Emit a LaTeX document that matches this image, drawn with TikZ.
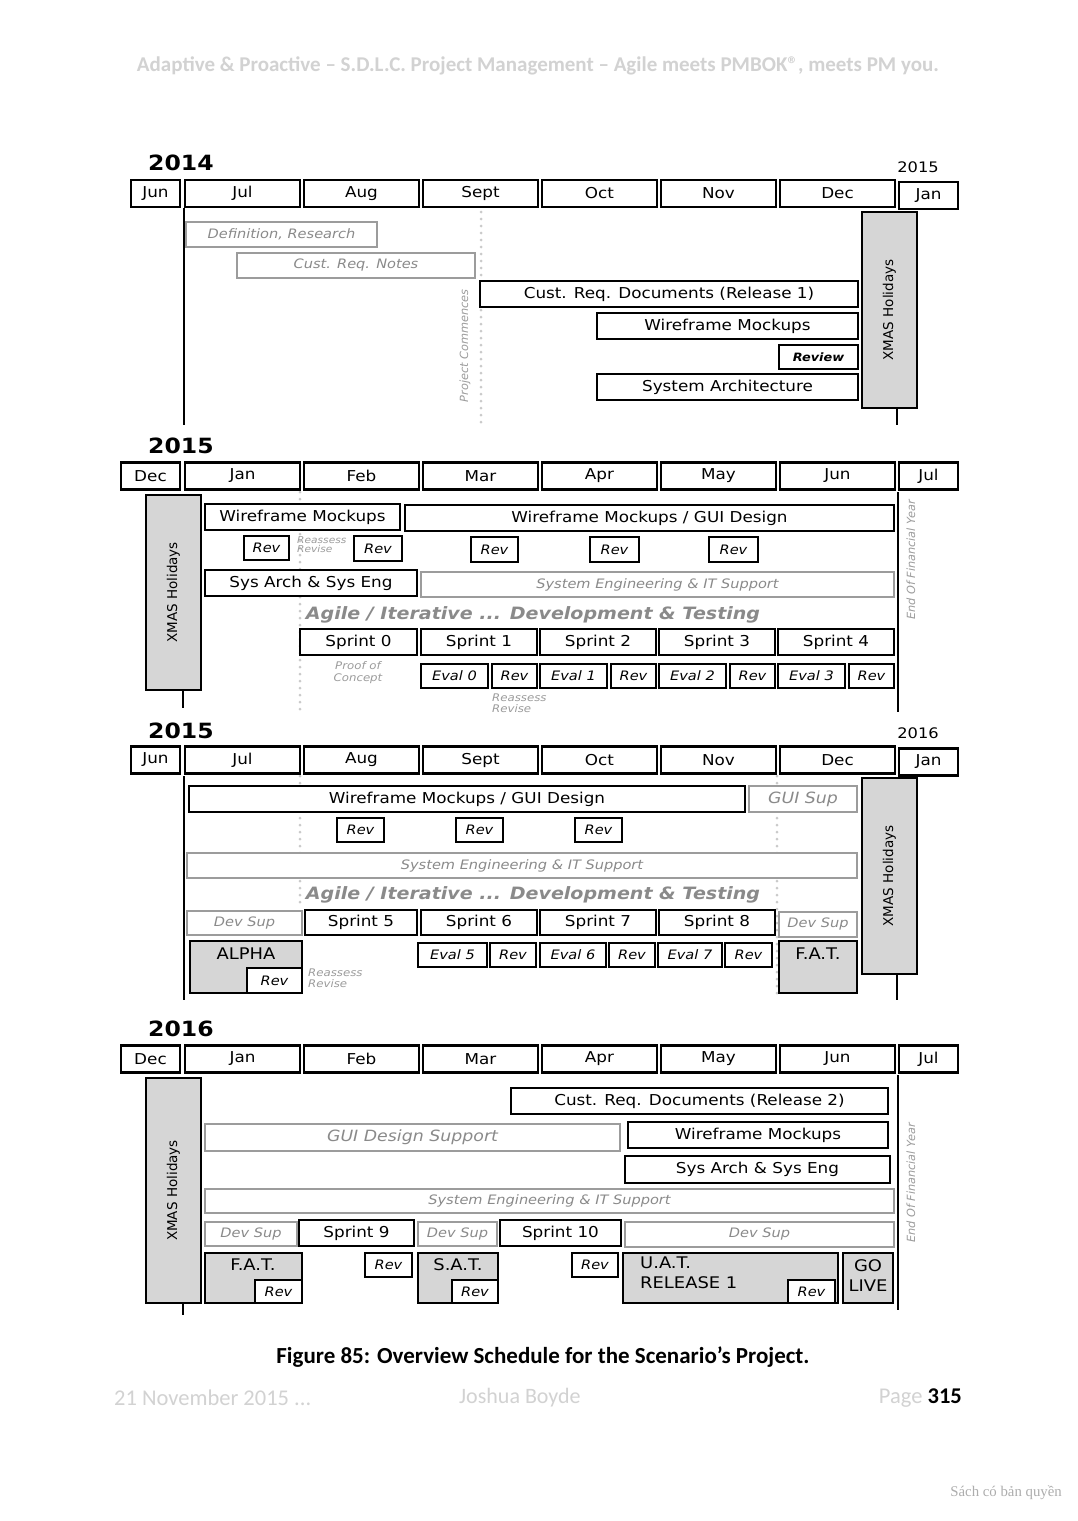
\documentclass[tikz,border=0pt]{standalone}
\usepackage{fontspec}
\setmainfont{DejaVu Sans}[FakeStretch=1.12]
\newfontfamily\plainfont{DejaVu Sans}
\newfontfamily\calfont{Carlito}
\newfontfamily\serfont{Liberation Serif}
\definecolor{inkgray}{HTML}{8A8A8A}
\definecolor{pagegray}{HTML}{D2D2D2}
\definecolor{holgray}{HTML}{D6D6D6}
\newcommand\sizept[1]{\fontsize{#1}{#1}\selectfont}
\begin{document}
\begin{tikzpicture}[x=1pt,y=-1pt,
  cellbox/.style args={#1/#2/#3/#4}{at={({((#1)+(#3))/2},{((#2)+(#4))/2})}, minimum width={(#3)-(#1)}, minimum height={(#4)-(#2)}},
  month/.style={draw, line width=2.2pt, fill=white, inner sep=0pt, minimum height=27pt, font=\sizept{15}},
  bar/.style={draw, line width=2.2pt, fill=white, inner sep=0pt, font=\sizept{15}},
  gbar/.style={draw=inkgray!85, line width=1.8pt, fill=white, inner sep=0pt, text=inkgray, font=\itshape\sizept{13}},
  rev/.style={draw, line width=2.2pt, fill=white, inner sep=0pt, font=\itshape\sizept{13}},
  hol/.style={draw, line width=2.2pt, fill=holgray, inner sep=0pt},
  milestone/.style={inner sep=0pt, font=\sizept{16}},
  holtext/.style={rotate=90, font=\plainfont\sizept{13.5}},
  note/.style={text=inkgray!85, font=\itshape\sizept{10.5}, align=left, inner sep=0pt},
  sidenote/.style={rotate=90, text=inkgray!85, inner sep=0pt, font=\plainfont\itshape\sizept{11.3}},
  tline/.style={line width=2pt},
  dots/.style={inkgray!45, line width=3pt, line cap=round, dash pattern=on 0pt off 7pt},
  agile/.style={text=inkgray, font=\bfseries\itshape\sizept{17}},
  bigyear/.style={font=\bfseries\sizept{21}, anchor=west, inner sep=0pt},
  smallyear/.style={font=\sizept{14.5}, inner sep=0pt}
]
\useasboundingbox[fill=white] (0,0) rectangle (1077,1521);
\node[text=pagegray, font=\calfont\bfseries\sizept{21}] (hdr) at (538,66) {Adaptive \& Proactive – S.D.L.C. Project Management – Agile meets PMBOK®, meets PM you.};

% 2014
\draw[dots] (481,212) -- (481,425);
\draw[tline] (184,208) -- (184,425);
\node[bigyear] (yra) at (148,163) {2014};
\node[smallyear] (yra2) at (918,167) {2015};
\node[month, minimum width=49pt] (ma0) at (155.5,193.5) {Jun};
\foreach \m [count=\k from 1] in {Jul,Aug,Sept,Oct,Nov,Dec}
  \node[month, minimum width=115pt] (ma\k) at ({123.5+119*\k},193.5) {\m};
\node[month, minimum width=59pt] (ma7) at (928.5,195.5) {Jan};
\node[gbar, cellbox=186/222/377/247] (defres) {Definition, Research};
\node[gbar, cellbox=237/253/475/278] (crnotes) {Cust. Req. Notes};
\node[sidenote] (projc) at (465,346) {Project Commences};
\node[bar, cellbox=480/281/858/307] (crdoc1) {Cust. Req. Documents (Release 1)};
\node[bar, cellbox=597/313/858/339] (wfa) {Wireframe Mockups};
\node[rev, font=\bfseries\itshape\sizept{11.5}, cellbox=779/345/858/369] (reviewa) {Review};
\node[bar, cellbox=597/374/858/400] (sysarch) {System Architecture};
\node[hol, cellbox=862/212/917/408] (xmasa) {};
\node[holtext] (xmasat) at (xmasa.center) {XMAS Holidays};
\draw[tline] (897,408) -- (897,425);

% 2015 first half
\draw[dots] (300,492) -- (300,712);
\draw[tline] (898,492) -- (898,712);
\node[bigyear] (yrb) at (148,446) {2015};
\node[month, minimum width=59pt] (mb0) at (150.5,476) {Dec};
\foreach \m [count=\k from 1] in {Jan,Feb,Mar,Apr,May,Jun}
  \node[month, minimum width=115pt] (mb\k) at ({123.5+119*\k},476) {\m};
\node[month, minimum width=59pt] (mb7) at (928.5,476) {Jul};
\node[sidenote] (fyb) at (911,560) {End Of Financial Year};
\node[hol, cellbox=146/495/201/690] (xmasb) {};
\node[holtext] (xmasbt) at (xmasb.center) {XMAS Holidays};
\draw[tline] (183,690) -- (183,708);
\node[bar, cellbox=205/504/400/530] (wfb) {Wireframe Mockups};
\node[bar, cellbox=405/505/894/531] (guib) {Wireframe Mockups / GUI Design};
\node[rev, cellbox=244/536/289/560] (rb1) {Rev};
\node[note, anchor=north west, font=\itshape\sizept{9.5}] (reb1) at (297,536) {Reassess\\Revise};
\node[rev, cellbox=354/536/402/561] (rb2) {Rev};
\node[rev, cellbox=471/537/518/562] (rb3) {Rev};
\node[rev, cellbox=590/537/639/562] (rb4) {Rev};
\node[rev, cellbox=709/537/758/562] (rb5) {Rev};
\node[bar, cellbox=205/570/417/596] (sab) {Sys Arch \& Sys Eng};
\node[gbar, cellbox=421/572/894/597] (seb) {System Engineering \& IT Support};
\node[agile] (agb) at (533,615) {Agile / Iterative ... Development \& Testing};
\node[bar, cellbox=300/629/417/655] (sp0) {Sprint 0};
\foreach \k in {1,...,4}
  \node[bar, cellbox={302+119*\k}/629/{418+119*\k}/655] (sp\k) {Sprint \k};
\foreach \k in {0,...,3} {
  \node[rev, cellbox={421+119*\k}/664/{488+119*\k}/688] (ev\k) {Eval \k};
  \node[rev, cellbox={492+119*\k}/664/{537+119*\k}/688] (er\k) {Rev};
}
\node[note, align=center, font=\itshape\fontsize{10.5}{12}\selectfont] (poc) at (358,673) {Proof of\\Concept};
\node[note, anchor=north west] (reb2) at (492,694) {Reassess\\Revise};

% 2015 second half
\draw[dots] (300,776) -- (300,905);
\draw[dots] (777,776) -- (777,1000);
\draw[tline] (184,776) -- (184,1000);
\node[bigyear] (yrc) at (148,731) {2015};
\node[smallyear] (yrc2) at (918,733) {2016};
\node[month, minimum width=49pt] (mc0) at (155.5,760) {Jun};
\foreach \m [count=\k from 1] in {Jul,Aug,Sept,Oct,Nov,Dec}
  \node[month, minimum width=115pt] (mc\k) at ({123.5+119*\k},760) {\m};
\node[month, minimum width=59pt] (mc7) at (928.5,762) {Jan};
\node[bar, cellbox=189/786/745/812] (guic) {Wireframe Mockups / GUI Design};
\node[gbar, font=\itshape\sizept{15.5}, cellbox=749/786/857/812] (gsc) {GUI Sup};
\node[rev, cellbox=337/818/384/842] (rc1) {Rev};
\node[rev, cellbox=456/818/503/842] (rc2) {Rev};
\node[rev, cellbox=575/818/622/842] (rc3) {Rev};
\node[gbar, cellbox=187/853/857/878] (sec) {System Engineering \& IT Support};
\node[agile] (agc) at (533,895) {Agile / Iterative ... Development \& Testing};
\node[gbar, cellbox=187/911/302/935] (dsc1) {Dev Sup};
\node[bar, cellbox=305/910/417/935] (sp5) {Sprint 5};
\foreach \k in {1,...,3}
  \node[bar, cellbox={302+119*\k}/910/{418+119*\k}/935] (sp\the\numexpr\k+5\relax) {Sprint \the\numexpr\k+5\relax};
\node[gbar, cellbox=779/912/857/937] (dsc2) {Dev Sup};
\node[hol, cellbox=862/778/917/974] (xmasc) {};
\node[holtext] (xmasct) at (xmasc.center) {XMAS Holidays};
\draw[tline] (897,974) -- (897,1000);
\node[hol, cellbox=190/941/302/993] (alpha) {};
\node[milestone] (alphat) at (246,954) {ALPHA};
\node[rev, cellbox=247/968/302/993] (rc4) {Rev};
\node[note, anchor=north west] (rec) at (308,969) {Reassess\\Revise};
\node[rev, cellbox=418/943/487/967] (ev5) {Eval 5};
\node[rev, cellbox=490/943/536/967] (er5) {Rev};
\node[rev, cellbox=540/943/606/967] (ev6) {Eval 6};
\node[rev, cellbox=609/943/655/967] (er6) {Rev};
\node[rev, cellbox=658/943/722/967] (ev7) {Eval 7};
\node[rev, cellbox=725/943/772/967] (er7) {Rev};
\node[hol, cellbox=779/941/857/993] (fatc) {};
\node[milestone] (fatct) at (818,954) {F.A.T.};

% 2016
\draw[tline] (898,1075) -- (898,1310);
\node[bigyear] (yrd) at (148,1029) {2016};
\node[month, minimum width=59pt] (md0) at (150.5,1059) {Dec};
\foreach \m [count=\k from 1] in {Jan,Feb,Mar,Apr,May,Jun}
  \node[month, minimum width=115pt] (md\k) at ({123.5+119*\k},1059) {\m};
\node[month, minimum width=59pt] (md7) at (928.5,1059) {Jul};
\node[sidenote] (fyd) at (911,1183) {End Of Financial Year};
\node[hol, cellbox=146/1078/201/1303] (xmasd) {};
\node[holtext] (xmasdt) at (xmasd.center) {XMAS Holidays};
\draw[tline] (183,1303) -- (183,1315);
\node[bar, cellbox=511/1088/888/1114] (crdoc2) {Cust. Req. Documents (Release 2)};
\node[gbar, font=\itshape\sizept{15.5}, cellbox=205/1124/620/1151] (gdsd) {GUI Design Support};
\node[bar, cellbox=628/1122/888/1148] (wfd) {Wireframe Mockups};
\node[bar, cellbox=625/1156/890/1183] (sad) {Sys Arch \& Sys Eng};
\node[gbar, cellbox=205/1189/894/1213] (sed) {System Engineering \& IT Support};
\node[gbar, cellbox=205/1222/297/1246] (dsd1) {Dev Sup};
\node[bar, cellbox=299/1220/414/1246] (sp9) {Sprint 9};
\node[gbar, cellbox=418/1222/497/1246] (dsd2) {Dev Sup};
\node[bar, cellbox=500/1220/621/1246] (sp10) {Sprint 10};
\node[gbar, cellbox=625/1222/894/1247] (dsd3) {Dev Sup};
\node[hol, cellbox=205/1253/302/1303] (fatd) {};
\node[milestone] (fatdt) at (253,1265) {F.A.T.};
\node[rev, cellbox=255/1280/302/1303] (rd1) {Rev};
\node[rev, cellbox=365/1253/412/1277] (rd2) {Rev};
\node[hol, cellbox=418/1253/498/1303] (satd) {};
\node[milestone] (satdt) at (458,1265) {S.A.T.};
\node[rev, cellbox=452/1280/498/1303] (rd3) {Rev};
\node[rev, cellbox=572/1253/618/1277] (rd4) {Rev};
\node[hol, cellbox=623/1253/838/1303] (uatd) {};
\node[milestone, anchor=north west, align=left, font=\fontsize{16}{20}\selectfont] (uatdt) at (640,1257) {U.A.T.\\RELEASE 1};
\node[rev, cellbox=788/1280/835/1303] (rd5) {Rev};
\node[hol, cellbox=843/1253/893/1303] (golive) {};
\node[milestone, align=center, font=\fontsize{16}{20}\selectfont] (golivet) at (868,1276) {GO\\LIVE};

% caption and page
\node[font=\calfont\bfseries\sizept{23}] (cap) at (543,1357) {Figure 85: Overview Schedule for the Scenario’s Project.};
\node[anchor=west, inner sep=0pt, text=pagegray, font=\calfont\sizept{22.5}] (ftl) at (114,1398) {21 November 2015 ...};
\node[anchor=west, inner sep=0pt, text=pagegray, font=\calfont\sizept{22}] (ftm) at (459,1398) {Joshua Boyde};
\node[anchor=east, inner sep=0pt, font=\calfont\sizept{22.5}] (ftr) at (962,1398) {\textcolor{pagegray}{Page} \textbf{315}};
\node[anchor=east, inner sep=0pt, text=inkgray!70, font=\serfont\sizept{14.8}] (wmk) at (1062,1493) {Sách có bản quyền};
\end{tikzpicture}
\end{document}
